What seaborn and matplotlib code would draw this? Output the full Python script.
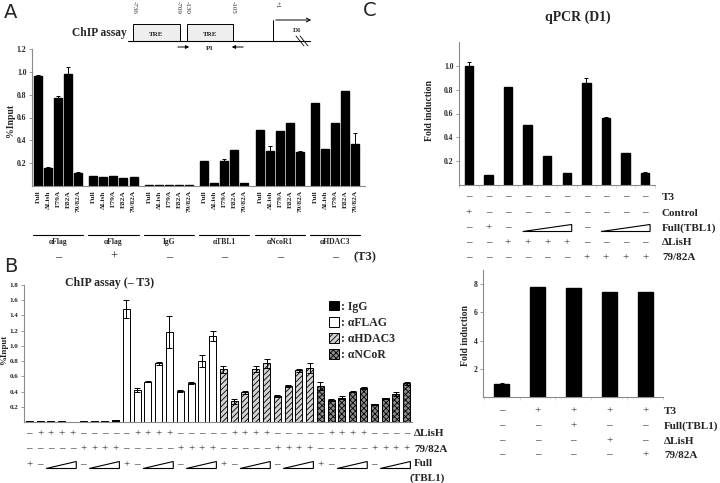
import numpy as np
import pandas as pd
import seaborn as sns
import matplotlib.pyplot as plt
from matplotlib import transforms
from matplotlib.patches import Rectangle, Polygon, Patch, FancyArrowPatch
from matplotlib.lines import Line2D

# ---------------- data ----------------
# Panel A: ChIP assay, 6 antibody groups x 5 TBL1 constructs
a_constructs = ["Full", "ΔLish", "F79A", "E82A", "79/82A"]
a_groups = ["αFlag", "αFlag", "IgG", "αTBL1", "αNcoR1", "αHDAC3"]
a_t3 = ["–", "+", "–", "–", "–", "–"]
a_values = [
    [0.96, 0.155, 0.775, 0.985, 0.115],
    [0.085, 0.083, 0.088, 0.068, 0.078],
    [0.005, 0.008, 0.005, 0.005, 0.008],
    [0.222, 0.028, 0.218, 0.318, 0.030],
    [0.490, 0.305, 0.483, 0.555, 0.298],
    [0.730, 0.328, 0.548, 0.828, 0.365],
]
a_errors = [
    [0.012, 0.012, 0.012, 0.06, 0.012],
    [0, 0, 0, 0, 0],
    [0, 0, 0, 0, 0],
    [0, 0, 0.015, 0, 0],
    [0, 0.048, 0, 0, 0.012],
    [0, 0, 0.008, 0, 0.10],
]

# Panel B: ChIP assay (- T3), 4 antibodies x 9 conditions
b_antibodies = ["IgG", "αFLAG", "αHDAC3", "αNCoR"]
b_values = [
    [0.01, 0.01, 0.01, 0.01, 0.005, 0.01, 0.01, 0.018, 0.025],
    [1.48, 0.42, 0.53, 0.77, 1.18, 0.41, 0.51, 0.80, 1.13],
    [0.69, 0.27, 0.39, 0.70, 0.77, 0.34, 0.47, 0.68, 0.71],
    [0.47, 0.29, 0.32, 0.40, 0.45, 0.23, 0.31, 0.37, 0.51],
]
b_errors = [
    [0, 0, 0, 0, 0, 0, 0, 0, 0],
    [0.12, 0.03, 0.01, 0.02, 0.21, 0.01, 0.01, 0.08, 0.07],
    [0.05, 0.03, 0.02, 0.04, 0.06, 0.01, 0.01, 0.02, 0.07],
    [0.05, 0.01, 0.02, 0.01, 0.01, 0.01, 0.01, 0.03, 0.02],
]
b_lish = ["–", "+", "+", "+", "+", "–", "–", "–", "–"]
b_7982 = ["–", "–", "–", "–", "–", "+", "+", "+", "+"]
b_full = ["+", "–", "", "", "", "–", "", "", ""]
b_full_ramps = [(2, 4), (6, 8)]

# Panel C top: qPCR (D1)
c1_values = [1.0, 0.08, 0.82, 0.50, 0.24, 0.10, 0.86, 0.56, 0.27, 0.10]
c1_errors = [0.03, 0.005, 0.003, 0.005, 0, 0, 0.04, 0.01, 0, 0.005]
c1_rows = ["T3", "Control", "Full(TBL1)", "ΔLisH", "79/82A"]
c1_signs = [
    ["–"] * 10,
    ["+", "–", "–", "–", "–", "–", "–", "–", "–", "–"],
    ["–", "+", "–", "", "", "", "–", "", "", ""],
    ["–", "–", "+", "+", "+", "+", "–", "–", "–", "–"],
    ["–", "–", "–", "–", "–", "–", "+", "+", "+", "+"],
]
c1_full_ramps = [(3, 5), (7, 9)]

# Panel C bottom
c2_values = [0.95, 7.8, 7.75, 7.45, 7.45]
c2_errors = [0.05, 0.03, 0, 0, 0]
c2_rows = ["T3", "Full(TBL1)", "ΔLisH", "79/82A"]
c2_signs = [
    ["–", "+", "+", "+", "+"],
    ["–", "–", "+", "–", "–"],
    ["–", "–", "–", "+", "–"],
    ["–", "–", "–", "–", "+"],
]

# ---------------- style ----------------
sns.set_style("ticks")
plt.rcParams["font.family"] = ["Liberation Serif", "DejaVu Serif"]
plt.rcParams["font.weight"] = "bold"
plt.rcParams["hatch.linewidth"] = 0.6
GRAY = "#8a8a8a"

fig = plt.figure(figsize=(7.2, 4.83), dpi=100)


def fx(px):
    return px / 720


def fy(px):
    return 1 - px / 483


def style_axis(ax, size=5.5):
    sns.despine(ax=ax)
    for s in ["left", "bottom"]:
        ax.spines[s].set_color(GRAY)
        ax.spines[s].set_linewidth(0.8)
    ax.tick_params(axis="y", labelsize=size, length=2, width=0.6, color=GRAY, pad=2)
    ax.set_xlabel("")
    ax.set_ylabel("")


def sign_row(ax, xs, signs, ypx, size=8):
    tr = transforms.blended_transform_factory(ax.transData, fig.transFigure)
    for x, s in zip(xs, signs):
        if s:
            ax.text(x, fy(ypx), s, transform=tr, ha="center", va="center",
                    fontsize=size, color="#222222", fontweight="normal")


def ramp(ax, x0, x1, ypx, hpx=7):
    tr = transforms.blended_transform_factory(ax.transData, fig.transFigure)
    yb = fy(ypx + hpx / 2)
    yt = fy(ypx - hpx / 2)
    ax.add_patch(Polygon([(x0, yb), (x1, yb), (x1, yt)], closed=True, fill=False,
                         edgecolor="black", linewidth=0.8, transform=tr, clip_on=False))


# ================= Panel A =================
axA = fig.add_axes([fx(32), fy(186), fx(333), 137 / 483])
a_pos, a_val, a_err, a_lab = [], [], [], []
for g in range(len(a_groups)):
    for i in range(5):
        a_pos.append(g * 5.55 + i)
        a_val.append(a_values[g][i])
        a_err.append(a_errors[g][i])
        a_lab.append(a_constructs[i])
dfA = pd.DataFrame({"pos": a_pos, "val": a_val})
sns.barplot(data=dfA, x="pos", y="val", native_scale=True, color="black",
            width=0.8, errorbar=None, ax=axA, edgecolor="black")
axA.errorbar(a_pos, a_val, yerr=[np.zeros(len(a_err)), a_err], fmt="none",
             ecolor="black", elinewidth=0.7, capsize=1.5, capthick=0.7)
axA.set_xlim(-0.6, 32.7)
axA.set_ylim(0, 1.2)
axA.set_yticks([0.2, 0.4, 0.6, 0.8, 1.0, 1.2])
axA.set_yticklabels(["0.2", "0.4", "0.6", "0.8", "1.0", "1.2"])
style_axis(axA)
axA.set_xticks(a_pos)
axA.set_xticklabels(a_lab, rotation=90, fontsize=5.3, va="top")
axA.tick_params(axis="x", length=0, pad=3)
fig.text(fx(10), fy(120), "%Input", rotation=90, ha="center", va="center", fontsize=7)

trA = transforms.blended_transform_factory(axA.transData, fig.transFigure)
for g, name in enumerate(a_groups):
    x0 = g * 5.55 - 0.5
    x1 = g * 5.55 + 4.5
    axA.add_line(Line2D([x0, x1], [fy(235), fy(235)], transform=trA, color="black",
                        linewidth=0.8, clip_on=False))
    axA.text((x0 + x1) / 2, fy(242), name, transform=trA, ha="center", va="center", fontsize=5.5)
    axA.text((x0 + x1) / 2, fy(257), a_t3[g], transform=trA, ha="center", va="center",
             fontsize=9, fontweight="normal")
fig.text(fx(354), fy(257), "(T3)", ha="left", va="center", fontsize=9)

# promoter schematic above panel A
fig.text(fx(72), fy(33), "ChIP assay", ha="left", va="center", fontsize=8.3)
fig.add_artist(Line2D([fx(128), fx(310)], [fy(41), fy(41)], color="black", linewidth=0.8))
for xl, xr in [(133, 180), (187, 233)]:
    fig.add_artist(Rectangle((fx(xl), fy(41)), fx(xr - xl), 17 / 483, facecolor="#eeeeee",
                             edgecolor="black", linewidth=0.7))
    fig.text(fx((xl + xr) / 2), fy(34), "TRE", ha="center", va="center", fontsize=5)
for xp, lab in [(134, "-736"), (178, "-709"), (187, "-130"), (233, "-105"), (277, "+1")]:
    fig.text(fx(xp), fy(1), lab, rotation=270, ha="center", va="top", fontsize=5,
             fontweight="normal")
fig.add_artist(Line2D([fx(273), fx(273)], [fy(41), fy(20)], color="black", linewidth=0.7))
fig.add_artist(FancyArrowPatch((fx(273), fy(20)), (fx(314), fy(20)), transform=fig.transFigure,
                               arrowstyle="->", mutation_scale=7, linewidth=0.7, color="black"))
fig.text(fx(297), fy(30), "D1", ha="center", va="center", fontsize=5)
fig.add_artist(Line2D([fx(296), fx(304)], [fy(36), fy(46)], color="black", linewidth=0.6))
fig.add_artist(Line2D([fx(300), fx(308)], [fy(36), fy(46)], color="black", linewidth=0.6))
fig.add_artist(FancyArrowPatch((fx(175), fy(47)), (fx(192), fy(47)), transform=fig.transFigure,
                               arrowstyle="-|>", mutation_scale=5, linewidth=0.7, color="black"))
fig.add_artist(FancyArrowPatch((fx(246), fy(47)), (fx(229), fy(47)), transform=fig.transFigure,
                               arrowstyle="-|>", mutation_scale=5, linewidth=0.7, color="black"))
fig.text(fx(210), fy(49), "P1", ha="center", va="center", fontsize=5)

# ================= Panel B =================
axB = fig.add_axes([fx(24), fy(422), fx(388), 137 / 483])
b_pos, b_val, b_err, b_ab = [], [], [], []
for g, ab in enumerate(b_antibodies):
    for i in range(9):
        b_pos.append(g * 9 + i)
        b_val.append(b_values[g][i])
        b_err.append(b_errors[g][i])
        b_ab.append(ab)
dfB = pd.DataFrame({"pos": b_pos, "val": b_val, "ab": b_ab})
b_colors = {"IgG": "black", "αFLAG": "white", "αHDAC3": "#d2d2d2", "αNCoR": "#8c8c8c"}
b_hatch = {"IgG": "", "αFLAG": "", "αHDAC3": "//////", "αNCoR": "xxxxxx"}
sns.barplot(data=dfB, x="pos", y="val", hue="ab", palette=b_colors, native_scale=True,
            dodge=False, width=0.65, errorbar=None, ax=axB, edgecolor="black",
            linewidth=0.7, legend=False)
for p in axB.patches:
    idx = int(round(p.get_x() + p.get_width() / 2))
    p.set_hatch(b_hatch[b_antibodies[idx // 9]])
axB.errorbar(b_pos, b_val, yerr=b_err, fmt="none", ecolor="black", elinewidth=0.7,
             capsize=2.5, capthick=0.7)
axB.set_xlim(-0.5, 35.5)
axB.set_ylim(0, 1.8)
axB.set_yticks([0.2, 0.4, 0.6, 0.8, 1.0, 1.2, 1.4, 1.6, 1.8])
axB.set_yticklabels(["0.2", "0.4", "0.6", "0.8", "1.0", "1.2", "1.4", "1.6", "1.8"])
style_axis(axB, size=5)
axB.set_xticks([])
fig.text(fx(4), fy(350), "%Input", rotation=90, ha="center", va="center", fontsize=6.5)
fig.text(fx(110), fy(283), "ChIP assay (– T3)", ha="center", va="center", fontsize=8.5)

for g in range(4):
    xs = [g * 9 + i for i in range(9)]
    sign_row(axB, xs, b_lish, 434)
    sign_row(axB, xs, b_7982, 449)
    sign_row(axB, xs, b_full, 465)
    for s, e in b_full_ramps:
        ramp(axB, g * 9 + s - 0.45, g * 9 + e + 0.35, 465)
fig.text(fx(414), fy(434), "ΔLisH", ha="left", va="center", fontsize=8)
fig.text(fx(414), fy(449), "79/82A", ha="left", va="center", fontsize=8)
fig.text(fx(414), fy(464), "Full", ha="left", va="center", fontsize=8)
fig.text(fx(410), fy(478), "(TBL1)", ha="left", va="center", fontsize=8)

handles = [Patch(facecolor=b_colors[a], edgecolor="black", hatch=b_hatch[a], linewidth=0.7)
           for a in b_antibodies]
fig.legend(handles, [": " + a for a in b_antibodies], loc="upper left",
           bbox_to_anchor=(fx(318), fy(290)), frameon=False, fontsize=8.5,
           handlelength=0.9, handleheight=0.9, handletextpad=0.15, labelspacing=0.35)

# ================= Panel C top =================
axC1 = fig.add_axes([fx(459), fy(185), fx(196), 143 / 483])
dfC1 = pd.DataFrame({"pos": np.arange(len(c1_values)), "val": c1_values})
sns.barplot(data=dfC1, x="pos", y="val", native_scale=True, color="black",
            width=0.42, errorbar=None, ax=axC1, edgecolor="black")
axC1.errorbar(dfC1["pos"], c1_values, yerr=[np.zeros(10), c1_errors], fmt="none",
              ecolor="black", elinewidth=0.7, capsize=1.5, capthick=0.7)
axC1.set_xlim(-0.46, 9.5)
axC1.set_ylim(0, 1.2)
axC1.set_yticks([0.2, 0.4, 0.6, 0.8, 1.0])
axC1.set_yticklabels(["0.2", "0.4", "0.6", "0.8", "1.0"])
style_axis(axC1)
axC1.set_xticks(np.arange(-0.5, 10, 1))
axC1.set_xticklabels([])
axC1.tick_params(axis="x", length=2, width=0.5, color="#cccccc")
fig.text(fx(430), fy(110), "Fold induction", rotation=90, ha="center", va="center", fontsize=7)
fig.text(fx(578), fy(17), "qPCR (D1)", ha="center", va="center", fontsize=10)

for r, (lab, ypx) in enumerate(zip(c1_rows, [197, 213, 228, 243, 258])):
    sign_row(axC1, range(10), c1_signs[r], ypx)
    fig.text(fx(662), fy(ypx), lab, ha="left", va="center", fontsize=8)
for s, e in c1_full_ramps:
    ramp(axC1, s - 0.25, e + 0.25, 228)

# ================= Panel C bottom =================
axC2 = fig.add_axes([fx(483), fy(397), fx(180), 127 / 483])
dfC2 = pd.DataFrame({"pos": np.arange(len(c2_values)), "val": c2_values})
sns.barplot(data=dfC2, x="pos", y="val", native_scale=True, color="black",
            width=0.42, errorbar=None, ax=axC2, edgecolor="black")
axC2.errorbar(dfC2["pos"], c2_values, yerr=[np.zeros(5), c2_errors], fmt="none",
              ecolor="black", elinewidth=0.7, capsize=1.5, capthick=0.7)
axC2.set_xlim(-0.52, 4.44)
axC2.set_ylim(0, 9)
axC2.set_yticks([2, 4, 6, 8])
axC2.set_yticklabels(["2", "4", "6", "8"])
style_axis(axC2)
axC2.set_xticks(np.arange(-0.5, 5, 1))
axC2.set_xticklabels([])
axC2.tick_params(axis="x", length=2, width=0.5, color="#cccccc")
fig.text(fx(465), fy(335), "Fold induction", rotation=90, ha="center", va="center", fontsize=7)

for r, (lab, ypx) in enumerate(zip(c2_rows, [411, 426, 441, 455])):
    sign_row(axC2, range(5), c2_signs[r], ypx)
    fig.text(fx(664), fy(ypx), lab, ha="left", va="center", fontsize=8)

# panel letters
for lab, xp, yp in [("A", 4, 12), ("B", 4, 266), ("C", 363, 11)]:
    fig.text(fx(xp), fy(yp), lab, ha="left", va="center", fontsize=14,
             family="DejaVu Sans", fontweight="normal")

fig.savefig("out.png", dpi=100)
